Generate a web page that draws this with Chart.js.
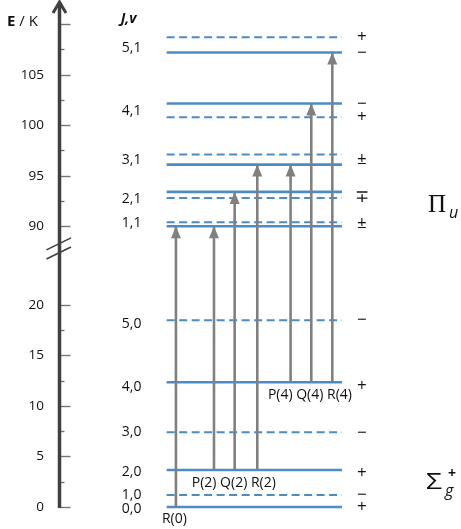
<!DOCTYPE html>
<html>
<head>
<meta charset="utf-8">
<script src="https://cdn.jsdelivr.net/npm/chart.js@4.4.0/dist/chart.umd.min.js"></script>
<style>
  html, body { margin: 0; padding: 0; background: #fff; }
</style>
</head>
<body>
<canvas id="levels" width="461" height="529"></canvas>
<script>
// energies in K
var groundLabels = ['0,0', '1,0', '2,0', '3,0', '4,0', '5,0'];
var groundE = [0, 1.19, 3.66, 7.4, 12.35, 18.5];
var groundDashed = [false, true, false, true, false, true];
var groundLabelE = [-0.2, 1.2, 3.5, 7.4, 11.9, 18.1];
var groundParity = ['+', '−', '+', '−', '+', '−'];
var groundParityE = [0, 1.19, 3.37, 7.33, 11.98, 18.5];

var upperLabels = ['1,1', '2,1', '3,1', '4,1', '5,1'];
var upperSolidE = [90.0, 93.4, 96.1, 102.15, 107.2];
var upperDashedE = [90.4, 92.8, 97.1, 100.8, 108.7];
var upperLabelE = [90.3, 92.7, 96.6, 101.4, 107.6];
var upperParity = ['±', '∓', '±', '−', '+', '−', '+'];
var upperParityE = [90.3, 92.9, 96.6, 102.1, 100.8, 107.1, 108.7];

// transitions: from ground J to upper (solid) J
var branchLabels = ['R(0)', 'P(2)', 'Q(2)', 'R(2)', 'P(4)', 'Q(4)', 'R(4)'];
var fromJ = [0, 2, 2, 2, 4, 4, 4];
var toJ = [1, 1, 2, 3, 3, 4, 5];
var transX = [0.53, 2.70, 3.88, 5.17, 7.07, 8.25, 9.45];

var tickE = [0, 2.5, 5, 7.5, 10, 12.5, 15, 17.5, 20,
             90, 92.5, 95, 97.5, 100, 102.5, 105, 107.5, 110];

var levelX = [0, 10];
var jvX = -2;
var parityX = 11.14;
var termX = 14.85;

var breakShift = 62.2;   // upper block is pulled down by this much
function disp(e) { return e > 50 ? e - breakShift : e; }

var blue = '#4a8bc8';
var grey = '#808080';
var axisCol = '#404040';
var txt = '#111';

var datasets = [];

// transitions (drawn on top)
for (var i = 0; i < transX.length; i++) {
  datasets.push({
    kind: 'arrow',
    data: [{x: transX[i], y: disp(groundE[fromJ[i]])}, {x: transX[i], y: disp(upperSolidE[toJ[i] - 1])}],
    borderColor: grey, borderWidth: 2.6, pointRadius: 0, order: 1
  });
}

function levelSet(e, dashed) {
  return {
    data: [{x: levelX[0], y: disp(e)}, {x: levelX[1], y: disp(e)}],
    borderColor: blue,
    borderWidth: dashed ? 2 : 2.6,
    borderDash: dashed ? [8, 4.5] : [],
    pointRadius: 0, order: 2
  };
}
groundE.forEach(function(e, k) { datasets.push(levelSet(e, groundDashed[k])); });
upperSolidE.forEach(function(e) { datasets.push(levelSet(e, false)); });
upperDashedE.forEach(function(e) { datasets.push(levelSet(e, true)); });

var arrowHeads = {
  id: 'arrowHeads',
  afterDatasetsDraw: function(chart) {
    var ctx = chart.ctx;
    chart.data.datasets.forEach(function(ds, i) {
      if (ds.kind !== 'arrow') return;
      var pts = chart.getDatasetMeta(i).data;
      var tip = pts[pts.length - 1];
      ctx.save();
      ctx.fillStyle = grey;
      ctx.beginPath();
      ctx.moveTo(tip.x, tip.y);
      ctx.lineTo(tip.x - 5, tip.y + 12);
      ctx.lineTo(tip.x + 5, tip.y + 12);
      ctx.closePath();
      ctx.fill();
      ctx.restore();
    });
  }
};

var axisDeco = {
  id: 'axisDeco',
  afterDraw: function(chart) {
    var ctx = chart.ctx, ys = chart.scales.y;
    var ax = chart.chartArea.left + 0.5;
    var y0 = ys.getPixelForValue(0);
    var yTop = ys.getPixelForValue(disp(112.3));
    ctx.save();
    // ticks
    ctx.strokeStyle = '#777';
    ctx.lineWidth = 1.4;
    tickE.forEach(function(e) {
      var y = Math.round(ys.getPixelForValue(disp(e))) + 0.5;
      var len = (e % 5 === 0) ? 11 : 5;
      ctx.beginPath();
      ctx.moveTo(ax, y);
      ctx.lineTo(ax + len, y);
      ctx.stroke();
    });
    // axis line
    ctx.strokeStyle = axisCol;
    ctx.lineWidth = 3.5;
    ctx.beginPath();
    ctx.moveTo(ax, y0 + 1);
    ctx.lineTo(ax, yTop + 2);
    ctx.stroke();
    // arrow head
    ctx.lineWidth = 3;
    ctx.lineJoin = 'miter';
    ctx.beginPath();
    ctx.moveTo(ax - 6.5, yTop + 12);
    ctx.lineTo(ax, yTop + 1);
    ctx.lineTo(ax + 6.5, yTop + 12);
    ctx.stroke();
    // break marks
    ctx.lineWidth = 1.6;
    [25.15, 26.05].forEach(function(v) {
      var y = ys.getPixelForValue(v);
      ctx.beginPath();
      ctx.moveTo(ax - 13, y + 6);
      ctx.lineTo(ax + 11.5, y - 6);
      ctx.stroke();
    });
    ctx.restore();
  }
};

var labels = {
  id: 'labels',
  afterDraw: function(chart) {
    var ctx = chart.ctx, xs = chart.scales.x, ys = chart.scales.y;
    function X(v) { return xs.getPixelForValue(v); }
    function Y(e) { return ys.getPixelForValue(disp(e)); }
    ctx.save();
    ctx.fillStyle = txt;
    ctx.textAlign = 'center';
    ctx.textBaseline = 'middle';
    ctx.font = '14px "Open Sans"';
    groundLabels.forEach(function(s, k) { ctx.fillText(s, X(jvX), Y(groundLabelE[k])); });
    upperLabels.forEach(function(s, k) { ctx.fillText(s, X(jvX), Y(upperLabelE[k])); });
    ctx.font = '17px "Open Sans"';
    groundParity.forEach(function(s, k) { ctx.fillText(s, X(parityX), Y(groundParityE[k])); });
    upperParity.forEach(function(s, k) { ctx.fillText(s, X(parityX), Y(upperParityE[k])); });

    // branch labels under their lower level
    ctx.font = '14px "Open Sans"';
    var groups = {};
    branchLabels.forEach(function(s, k) {
      var j = fromJ[k];
      if (!groups[j]) groups[j] = {names: [], xs: []};
      groups[j].names.push(s);
      groups[j].xs.push(transX[k]);
    });
    Object.keys(groups).forEach(function(j) {
      var g = groups[j];
      var cx = g.xs.reduce(function(a, b) { return a + b; }, 0) / g.xs.length;
      ctx.fillText(g.names.join(' '), X(cx) - 1.5, Y(groundE[j]) + 12.5);
    });

    // header J,v
    ctx.font = 'italic bold 14px "Open Sans"';
    ctx.textBaseline = 'alphabetic';
    ctx.fillText('J,v', X(jvX) - 3, Y(110.1));

    // E / K
    ctx.textAlign = 'left';
    ctx.font = 'bold 15px "Open Sans"';
    var ey = Y(109.8);
    ctx.fillText('E', 7, ey);
    var w = ctx.measureText('E').width;
    ctx.font = '15px "Open Sans"';
    ctx.fillText(' / K', 7 + w, ey);

    // term symbols
    var tx = X(termX);
    ctx.font = '25px "Liberation Serif"';
    var py = Y(91.4);
    ctx.fillText('Π', tx + 1, py);
    ctx.font = 'italic 16px "Open Sans"';
    ctx.fillText('u', tx + 22, py + 6);

    var sy = Y(1.81);
    ctx.save();
    ctx.translate(tx - 1, sy);
    ctx.scale(1.35, 1);
    ctx.font = '21px "Open Sans"';
    ctx.fillText('Σ', 0, 0);
    ctx.restore();
    ctx.font = 'italic 16px "Open Sans"';
    ctx.fillText('g', tx + 18, sy + 7);
    ctx.font = 'bold 14px "Open Sans"';
    ctx.fillText('+', tx + 21, sy - 11);
    ctx.restore();
  }
};

new Chart(document.getElementById('levels'), {
  type: 'line',
  data: { datasets: datasets },
  options: {
    responsive: false,
    animation: false,
    layout: { padding: 0 },
    plugins: { legend: { display: false }, tooltip: { enabled: false } },
    scales: {
      x: { type: 'linear', display: false, min: -6.14, max: 16.79 },
      y: {
        type: 'linear',
        min: -2.18, max: 50.2,
        grid: { display: false, drawTicks: false },
        border: { display: false },
        afterBuildTicks: function(scale) {
          scale.ticks = tickE.map(function(e) { return {value: disp(e)}; });
        },
        afterFit: function(scale) {
          scale.width = 59;
          scale.paddingTop = 0;
          scale.paddingBottom = 0;
        },
        ticks: {
          autoSkip: false,
          padding: 15,
          color: txt,
          font: { family: 'Open Sans', size: 13.5 },
          callback: function(v, idx) {
            var e = tickE[idx];
            return (e % 5 === 0 && e !== 110) ? String(e) : '';
          }
        }
      }
    }
  },
  plugins: [arrowHeads, axisDeco, labels]
});
</script>
</body>
</html>
